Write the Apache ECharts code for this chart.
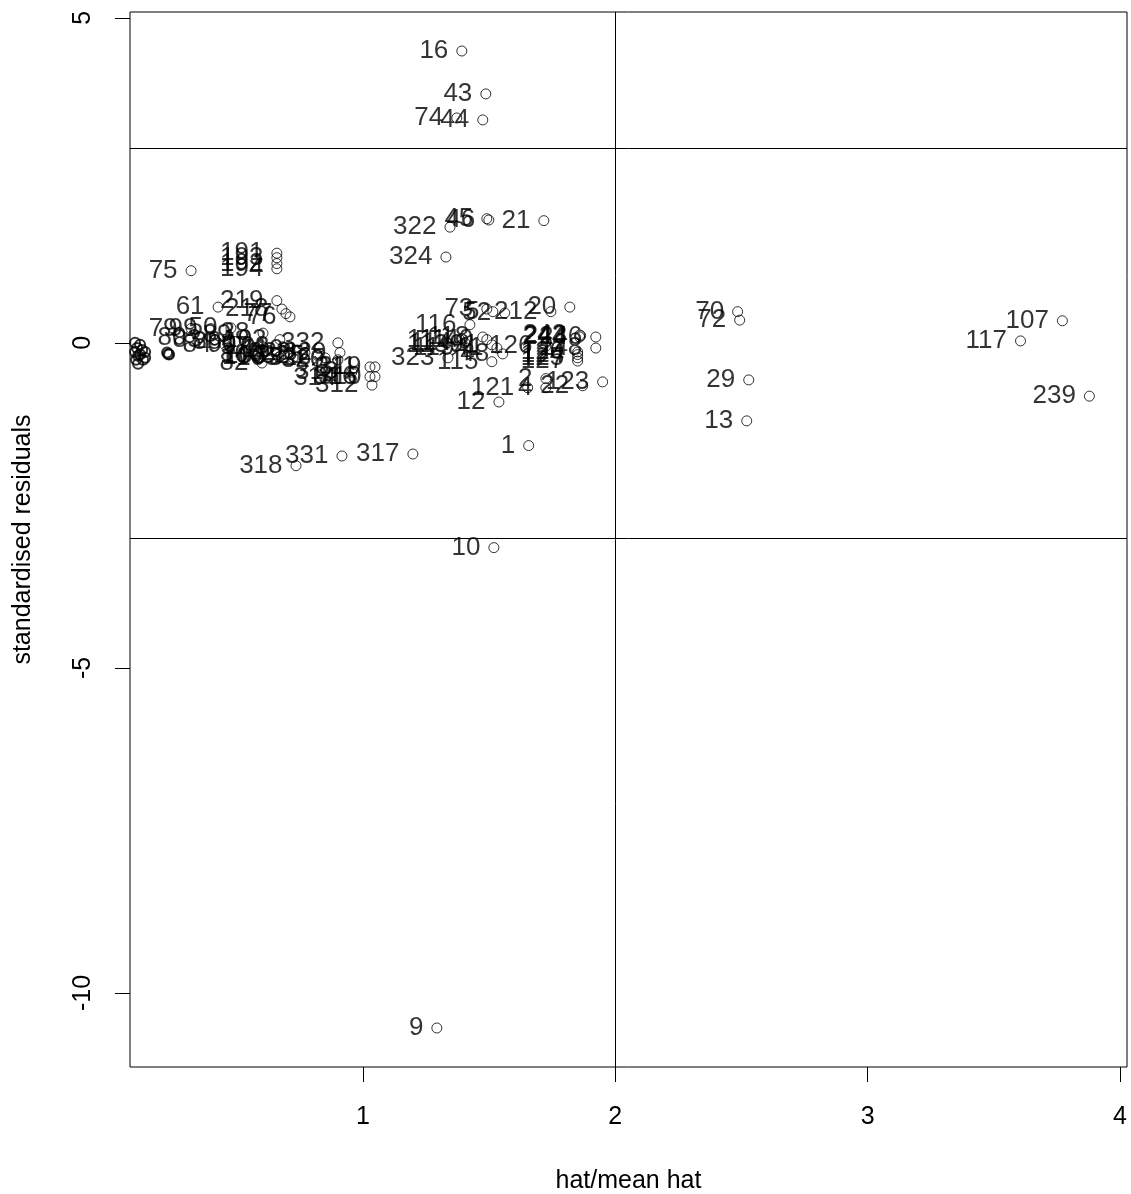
<!DOCTYPE html>
<html>
<head>
<meta charset="utf-8">
<script src="https://cdn.jsdelivr.net/npm/echarts@6/dist/echarts.min.js"></script>
<style>
  html, body { margin: 0; padding: 0; background: #fff; }
  #chart { width: 1131px; height: 1194px; }
</style>
</head>
<body>
<div id="chart"></div>
<script>
// observation numbers, hat/mean hat, standardised residuals
var pointIds = [
  16, 43, 44, 74, 45, 46, 322, 21, 324,
  75, 191, 193, 192, 194, 61, 219, 218, 77, 76,
  79, 99, 50, 38, 80, 83, 84, 88, 89, 90, 57,
  100, 106, 108, 82, 102, 103, 110, 105,
  332, 329, 320, 325, 326, 328, 311, 319, 316, 310, 312, 313, 314,
  116, 73, 5, 52, 212, 20,
  111, 113, 114, 119, 118, 40, 91, 41, 115, 323, 48,
  126, 120, 124, 125, 127, 242, 243, 244, 246, 248,
  2, 4, 22, 123, 121, 12, 1, 10, 9, 318, 331, 317,
  70, 72, 107, 117, 239, 29, 13
];
var hatRatio = [
  1.392, 1.487, 1.475, 1.372, 1.491, 1.499, 1.345, 1.717, 1.329,
  0.319, 0.659, 0.659, 0.659, 0.659, 0.426, 0.659, 0.679, 0.695, 0.711,
  0.319, 0.398, 0.477, 0.604, 0.354, 0.414, 0.453, 0.493, 0.533, 0.552, 0.604,
  0.659, 0.667, 0.675, 0.600, 0.671, 0.683, 0.739, 0.723,
  0.901, 0.909, 0.901, 0.822, 0.850, 0.770, 1.028, 1.048, 1.028, 1.048, 1.036, 0.956, 0.949,
  1.424, 1.491, 1.515, 1.562, 1.745, 1.820,
  1.384, 1.392, 1.404, 1.416, 1.475, 1.491, 1.511, 1.531, 1.511, 1.337, 1.554,
  1.725, 1.851, 1.851, 1.851, 1.851, 1.859, 1.863, 1.859, 1.923, 1.923,
  1.725, 1.725, 1.871, 1.950, 1.653, 1.539, 1.657, 1.519, 1.293, 0.735, 0.917, 1.198,
  2.485, 2.493, 3.772, 3.606, 3.879, 2.529, 2.521
];
var stdResid = [
  4.49, 3.83, 3.43, 3.46, 1.91, 1.89, 1.78, 1.88, 1.32,
  1.11, 1.38, 1.31, 1.22, 1.14, 0.55, 0.65, 0.52, 0.45, 0.40,
  0.22, 0.22, 0.23, 0.15, 0.08, 0.05, -0.03, 0.02, 0.12, -0.03, -0.06,
  -0.18, -0.22, -0.20, -0.31, 0.05, -0.06, -0.11, -0.23,
  0.00, -0.15, -0.26, -0.20, -0.23, -0.15, -0.37, -0.37, -0.52, -0.52, -0.65, -0.45, -0.54,
  0.28, 0.52, 0.48, 0.46, 0.48, 0.55,
  0.05, -0.03, 0.00, -0.08, 0.09, 0.05, -0.03, -0.08, -0.29, -0.23, -0.17,
  -0.05, -0.14, -0.18, -0.23, -0.28, 0.12, 0.11, 0.09, 0.09, -0.08,
  -0.55, -0.69, -0.66, -0.60, -0.69, -0.91, -1.58, -3.15, -10.54, -1.89, -1.74, -1.71,
  0.48, 0.35, 0.34, 0.03, -0.82, -0.57, -1.20
];
// points crowded against the left edge (their labels fall outside the plot)
var edgeHat = [0.097, 0.105, 0.097, 0.109, 0.101, 0.117, 0.125, 0.117, 0.129, 0.109, 0.137, 0.137, 0.224, 0.228, 0.232];
var edgeResid = [0.00, -0.08, -0.14, -0.20, -0.26, -0.03, -0.11, -0.18, -0.26, -0.32, -0.14, -0.23, -0.15, -0.17, -0.18];

var hatCutoff = 2;
var residCutoffs = [-3, 3];
var xTicks = [1, 2, 3, 4];
var yTicks = [-10, -5, 0, 5];

var font = '"Liberation Sans", Arial, sans-serif';

var labelled = [];
for (var i = 0; i < pointIds.length; i++) {
  labelled.push({ value: [hatRatio[i], stdResid[i]], name: String(pointIds[i]) });
}
var edge = [];
for (var j = 0; j < edgeHat.length; j++) {
  edge.push([edgeHat[j], edgeResid[j]]);
}

var chart = echarts.init(document.getElementById('chart'));
var refLines = [{ xAxis: hatCutoff }];
residCutoffs.forEach(function (c) { refLines.push({ yAxis: c }); });

var option = {
  animation: false,
  grid: {
    left: 130, right: 4, top: 12, bottom: 127,
    outerBoundsMode: 'none',
    containLabel: false,
    show: true, borderColor: '#000', borderWidth: 1, backgroundColor: '#fff'
  },
  xAxis: {
    type: 'value',
    min: 0.077, max: 4.028,
    name: 'hat/mean hat',
    nameLocation: 'middle',
    nameGap: 102,
    nameTextStyle: { fontFamily: font, fontSize: 25, color: '#000' },
    axisLine: { show: false, onZero: false },
    splitLine: { show: false },
    axisTick: { show: true, customValues: xTicks, length: 15, lineStyle: { color: '#000' } },
    axisLabel: { customValues: xTicks, margin: 38, fontFamily: font, fontSize: 25, color: '#000' }
  },
  yAxis: {
    type: 'value',
    min: -11.14, max: 5.09,
    name: 'standardised residuals',
    nameLocation: 'middle',
    nameGap: 94,
    nameTextStyle: { fontFamily: font, fontSize: 25, color: '#000' },
    axisLine: { show: false, onZero: false },
    splitLine: { show: false },
    axisTick: { show: true, customValues: yTicks, length: 15, lineStyle: { color: '#000' } },
    axisLabel: { customValues: yTicks, rotate: 90, margin: 34, fontFamily: font, fontSize: 25, color: '#000' }
  },
  series: [
    {
      type: 'scatter',
      data: labelled,
      symbol: 'circle',
      symbolSize: 10,
      itemStyle: { color: 'rgba(0,0,0,0)', borderColor: '#000', borderWidth: 1 },
      label: {
        show: true,
        position: 'left',
        distance: 8,
        formatter: '{b}',
        fontFamily: font,
        fontSize: 26,
        color: '#000'
      },
      labelLayout: { hideOverlap: false },
      markLine: {
        silent: true,
        symbol: 'none',
        label: { show: false },
        lineStyle: { color: '#000', width: 1, type: 'solid' },
        data: refLines
      }
    },
    {
      type: 'scatter',
      data: edge,
      symbol: 'circle',
      symbolSize: 10,
      itemStyle: { color: 'rgba(0,0,0,0)', borderColor: '#000', borderWidth: 2 }
    }
  ]
};
chart.setOption(option);
</script>
</body>
</html>
